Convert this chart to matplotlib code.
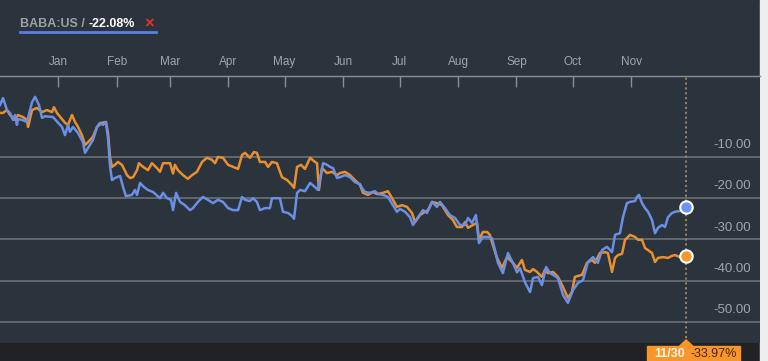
import numpy as np
import pandas as pd
import matplotlib
matplotlib.use("Agg")
import matplotlib.pyplot as plt
import matplotlib.transforms as mtransforms
from matplotlib.patches import Rectangle, Polygon

plt.rcParams['font.family'] = ['Liberation Sans', 'DejaVu Sans']

# days since 2017-12-01, percent change
start = pd.Timestamp('2017-12-01')

baba_days = [0, 1.6, 3.7, 5.3, 6.9, 8.0, 9.0, 9.5, 11.7, 13.3, 14.3, 17.0, 18.6, 20.7, 22.3, 23.9,
             28.1, 30.8, 32.9, 34.5, 36.1, 37.1, 38.7, 41.4, 44.0, 45.1, 46.7, 49.3, 51.5, 53.0,
             54.6, 56.2, 57.3, 58.4, 59.4, 61.0, 63.7, 65.3, 66.8, 70.0, 71.6, 72.7, 74.3, 76.4,
             78.5, 81.2, 84.9, 86.5, 88.6, 90.7, 91.8, 93.4, 95.5, 98.1, 100.8, 102.4, 105.0,
             107.7, 110.3, 113.0, 115.6, 118.3, 121.0, 123.6, 126.3, 128.4, 130.0, 132.6, 134.2,
             136.3, 137.9, 140.6, 143.2, 144.3, 146.9, 148.5, 150.1, 152.8, 154.9, 156.0, 157.6,
             159.2, 161.8, 164.5, 167.1, 168.7, 171.4, 173.5, 175.1, 176.7, 178.8, 180.4, 183.0,
             185.7, 188.3, 191.0, 192.0, 193.6, 196.3, 198.9, 200.5, 203.2, 205.8, 208.5, 210.6,
             212.2, 214.9, 217.5, 219.1, 221.8, 224.4, 226.5, 229.2, 231.8, 233.4, 236.1, 238.7,
             241.4, 244.0, 246.7, 248.3, 250.4, 252.5, 254.1, 256.2, 258.9, 261.0, 262.6, 264.2,
             266.8, 269.5, 272.1, 274.3, 275.9, 278.5, 281.2, 282.8, 285.4, 287.5, 289.7, 291.8,
             293.4, 296.0, 298.7, 301.3, 304.0, 306.6, 309.3, 311.9, 314.6, 317.2, 319.4, 322.0,
             324.7, 326.3, 328.9, 330.5, 332.6, 334.2, 336.9, 337.9, 339.0, 340.6, 342.2, 343.8,
             345.9, 347.5, 349.1, 351.2, 352.8, 354.4, 356.5, 358.1, 360.7, 363.4, 364.0]
baba_pct = [2.6, 4.3, 1.4, 0.7, -1.0, 0.2, -2.2, -0.8, -1.0, -1.3, -1.5, 3.3, 4.6, 2.6, -0.5, -0.1,
            -0.3, -1.7, -2.7, -4.7, -2.2, -3.9, -2.7, -4.2, -6.4, -9.0, -7.8, -5.9, -2.7, -1.7,
            -2.2, -1.5, -5.4, -12.4, -15.6, -15.1, -14.6, -17.3, -19.5, -19.2, -18.0, -19.2, -16.3, -17.3,
            -18.0, -18.5, -20.0, -18.7, -20.0, -20.4, -22.9, -18.7, -20.9, -21.7, -22.9, -22.4, -20.9,
            -19.7, -20.4, -21.2, -20.4, -20.9, -22.4, -22.9, -22.9, -19.7, -20.4, -20.7, -20.0,
            -20.9, -22.9, -22.4, -22.4, -20.0, -20.0, -20.0, -23.3, -23.6, -24.3, -25.0, -18.7,
            -18.0, -18.3, -16.3, -17.3, -18.0, -11.5, -11.9, -12.4, -12.7, -15.1, -14.9, -14.4,
            -14.9, -16.1, -16.6, -17.5, -18.5, -18.7, -18.3, -19.0, -19.2, -19.7, -21.7, -23.3,
            -22.6, -23.3, -24.6, -26.5, -24.6, -22.9, -23.6, -20.9, -22.1, -20.9, -22.4, -24.1,
            -24.8, -26.5, -26.5, -24.8, -26.0, -24.1, -30.9, -29.4, -29.4, -29.7, -32.6, -35.7,
            -38.2, -33.3, -35.7, -38.0, -37.0, -40.4, -42.8, -39.4, -39.1, -41.1, -36.7, -38.2,
            -38.6, -39.4, -43.5, -45.4, -42.3, -40.6, -39.9, -35.5, -34.3, -35.7, -32.6, -31.8,
            -33.1, -28.9, -28.5, -24.6, -21.2, -20.9, -20.7, -19.7, -19.2, -21.2, -22.4, -23.3,
            -25.3, -28.5, -27.2, -26.5, -27.0, -24.6, -23.6, -23.3, -23.1, -22.1, -22.08]

comp_days = [0, 1.6, 3.7, 5.3, 8.0, 9.5, 12.2, 14.3, 14.9, 17.0, 19.6, 22.3, 24.9, 27.6, 28.6,
             30.2, 32.9, 34.5, 36.1, 38.2, 39.8, 41.4, 43.5, 45.1, 46.7, 49.3, 51.5, 54.1, 56.2,
             57.3, 58.4, 59.4, 61.0, 62.6, 64.7, 67.4, 69.0, 70.6, 72.7, 73.7, 75.9, 78.5, 80.6,
             83.3, 84.9, 86.5, 89.1, 90.2, 91.8, 92.8, 94.4, 97.1, 99.7, 101.9, 104.5, 107.2, 109.8,
             112.5, 114.1, 115.6, 118.3, 121.0, 123.6, 126.3, 128.4, 130.0, 132.6, 134.7, 136.3,
             137.9, 140.6, 142.2, 144.3, 146.9, 149.6, 152.3, 154.9, 156.0, 157.6, 159.7, 161.8,
             164.5, 167.1, 168.2, 169.2, 170.8, 173.5, 176.1, 178.8, 180.4, 183.0, 185.7, 188.3,
             191.0, 192.6, 195.2, 197.9, 200.0, 203.2, 205.8, 208.0, 210.6, 213.3, 215.9, 218.6,
             220.2, 222.8, 225.5, 227.1, 229.2, 231.8, 234.5, 237.7, 240.3, 242.4, 245.1, 246.7,
             248.3, 250.9, 253.1, 254.1, 256.2, 258.4, 259.9, 261.5, 263.7, 266.3, 269.0, 272.1,
             274.3, 276.9, 278.5, 281.2, 282.8, 284.9, 287.5, 289.1, 290.7, 293.4, 296.0, 298.7,
             301.3, 303.4, 305.0, 308.8, 311.4, 314.1, 315.6, 318.3, 321.0, 322.5, 324.7, 326.3,
             327.9, 330.0, 331.6, 333.2, 334.2, 336.9, 338.5, 340.6, 342.2, 343.8, 345.9, 347.5,
             349.1, 351.7, 354.4, 356.5, 358.1, 360.7, 363.4, 364.0]
comp_pct = [0.7, 0.7, 1.4, 0.2, -1.0, 0.2, -0.3, -1.0, -2.7, 1.4, 1.9, 0.9, 1.4, 0.9, 2.1,
            0.7, -0.8, -1.7, -2.2, 0.2, -1.5, -2.7, -4.7, -7.1, -6.4, -5.1, -2.7, -1.7, -1.5,
            -4.2, -10.2, -12.4, -11.9, -11.2, -11.9, -14.4, -15.1, -14.9, -13.2, -11.5, -12.4, -13.2, -11.5,
            -12.7, -13.6, -11.5, -11.5, -11.5, -14.0, -11.9, -13.2, -14.4, -15.3, -14.4, -13.6, -11.2, -10.2,
            -10.7, -11.5, -10.0, -10.2, -11.9, -12.4, -12.9, -9.5, -9.0, -10.2, -8.8, -9.0,
            -11.2, -11.2, -12.4, -11.2, -11.5, -14.9, -15.6, -16.8, -17.5, -12.4, -11.9, -12.9,
            -10.2, -11.2, -11.5, -18.0, -12.7, -13.9, -13.6, -14.4, -13.9, -13.6, -14.4, -15.6,
            -16.8, -18.7, -19.2, -18.5, -19.0, -18.7, -18.3, -20.0, -22.1, -21.7, -22.1, -23.6,
            -25.8, -24.1, -23.3, -22.9, -20.9, -21.2, -21.7, -24.1, -25.3, -27.0, -27.0, -25.8,
            -27.2, -26.5, -26.0, -30.1, -28.2, -28.2, -28.9, -31.4, -34.5, -36.9, -34.3, -35.7,
            -36.9, -35.0, -37.4, -37.9, -37.2, -37.9, -39.1, -37.4, -38.2, -37.9, -39.1, -41.6,
            -44.2, -42.8, -39.1, -38.6, -35.7, -35.0, -35.7, -33.3, -33.1, -33.3, -37.9, -34.5,
            -33.8, -33.5, -30.1, -29.4, -28.9, -29.4, -30.1, -30.1, -32.1, -32.6, -33.3, -35.5,
            -34.5, -34.3, -34.5, -34.0, -33.8, -34.3, -34.0, -33.97]

y_ticks = [-10, -20, -30, -40, -50]
months = pd.date_range('2018-01-01', '2018-11-01', freq='MS')
month_days = [(m - start).days for m in months]
month_labels = [m.strftime('%b') for m in months]

BG = '#2b333c'
BLUE = '#6a8fe4'
ORANGE = '#e8902f'
GRID = '#6c7177'
TXT = '#a2a6ab'

fig = plt.figure(figsize=(7.68, 3.61), dpi=100, facecolor=BG)
ax = fig.add_axes([0, 18 / 361, 760 / 768, 267 / 361])
ax.set_facecolor(BG)

ax.plot(comp_days, comp_pct, color=ORANGE, lw=1.8, zorder=3, solid_joinstyle='round')
ax.plot(baba_days, baba_pct, color=BLUE, lw=1.8, zorder=4, solid_joinstyle='round')

ax.set_xlim(0, 403.2)
ax.set_ylim(-55.15, 9.66)

# grid + y labels inside on the right
ax.set_yticks(y_ticks)
ax.set_yticklabels([])
ax.tick_params(axis='y', length=0)
ax.grid(axis='y', color=GRID, lw=1.2)
ax.set_axisbelow(True)
for v in y_ticks:
    ax.annotate('%.2f' % v, xy=(0.988, v), xycoords=('axes fraction', 'data'),
                xytext=(0, 8.5), textcoords='offset points', ha='right', va='center',
                fontsize=9.5, color=TXT)

# months on top, ticks pointing in
ax.xaxis.tick_top()
ax.set_xticks(month_days)
ax.set_xticklabels(month_labels, fontsize=8.5, color=TXT)
ax.tick_params(axis='x', direction='in', length=8, width=1, color='#8a8f95', pad=6)
for s in ['left', 'right', 'bottom']:
    ax.spines[s].set_visible(False)
ax.spines['top'].set_color('#8a8f95')
ax.spines['top'].set_linewidth(1)

# crosshair at last date
last = baba_days[-1]
ax.axvline(last, color='#a48c57', lw=1.3, ls=(0, (1.2, 1.5)), zorder=2)
ax.scatter([last], [baba_pct[-1]], s=80, color='#6b93f2', edgecolor='white', lw=1.5, zorder=6)
ax.scatter([last], [comp_pct[-1]], s=80, color='#f4962c', edgecolor='white', lw=1.5, zorder=6)

# bottom strip and right edge
fig.patches.append(Rectangle((0, 0), 760 / 768, 18 / 361, transform=fig.transFigure,
                             color='#202225', zorder=-5))
fig.patches.append(Rectangle((760 / 768, 0), 8 / 768, 1, transform=fig.transFigure,
                             color='#eeeeee', zorder=-5))

# date label box
bt = mtransforms.blended_transform_factory(ax.transData, fig.transFigure)
ax.add_patch(Rectangle((last - 20.7, 0), 49.5, 15 / 361, transform=bt, color='#f7962a',
                       clip_on=False, zorder=7))
ax.add_patch(Polygon([(last - 3.5, 15 / 361), (last + 3.5, 15 / 361), (last, 21 / 361)],
                     closed=True, transform=bt, color='#f7962a', clip_on=False, zorder=7))
last_date = (start + pd.Timedelta(days=int(last))).strftime('%m/%d')
ax.text(last - 16.8, 7 / 361, last_date, transform=bt, fontsize=9, fontweight='bold',
        color='#fff4e6', va='center', ha='left', clip_on=False, zorder=8)
ax.text(last + 2.5, 7 / 361, '%.2f%%' % comp_pct[-1], transform=bt, fontsize=9,
        color='#4a2300', va='center', ha='left', clip_on=False, zorder=8)

# legend header
t1 = fig.text(20 / 768, 1 - 24 / 361, 'BABA:US / ', fontsize=9, fontweight='bold',
              color='#9ea2a7', va='center', ha='left')
a2 = ax.annotate('%.2f%%' % baba_pct[-1], xy=(1, 0.5), xycoords=t1, va='center', ha='left',
                 fontsize=9, fontweight='bold', color='white', annotation_clip=False)
ax.annotate('\u00d7', xy=(1, 0.5), xycoords=a2, xytext=(7, 0), textcoords='offset points',
            va='center', ha='left', fontsize=12, fontweight='bold', color='#e0332f',
            annotation_clip=False)
fig.add_artist(plt.Line2D([20 / 768, 156 / 768], [1 - 32 / 361, 1 - 32 / 361],
                          transform=fig.transFigure, color='#5d7fe0', lw=2))

fig.savefig('out.png', dpi=100, facecolor=BG)
